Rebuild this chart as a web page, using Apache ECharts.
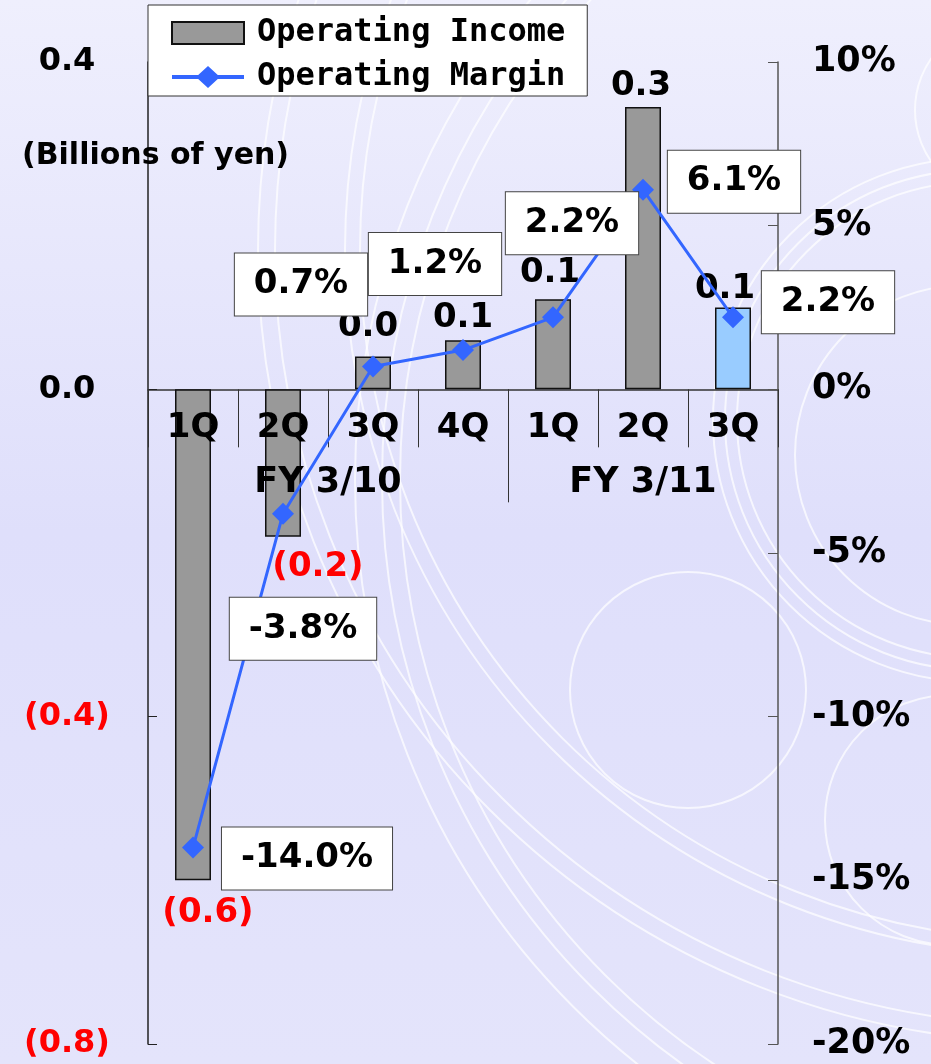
<!DOCTYPE html>
<html>
<head>
<meta charset="utf-8">
<title>Operating Income / Operating Margin</title>
<script src="https://cdn.jsdelivr.net/npm/echarts@6.0.0/dist/echarts.min.js"></script>
<style>
  html, body { margin: 0; padding: 0; }
  #chart { width: 931px; height: 1064px; }
</style>
</head>
<body>
<div id="chart"></div>
<script>
/* ---------- data ---------- */
const quarters = ['1Q', '2Q', '3Q', '4Q', '1Q', '2Q', '3Q'];
const fiscalYears = ['FY 3/10', 'FY 3/11'];
const fyCenters = [2, 5.5];          // middle of each fiscal-year group, in category units
const fyBreaks = [4];                // boundary between FY 3/10 and FY 3/11
const income = [-0.60, -0.18, 0.04, 0.06, 0.11, 0.345, 0.10];   // billions of yen
const margin = [-14.0, -3.8, 0.7, 1.2, 2.2, 6.1, 2.2];         // %
const incomeTicks = [-0.8, -0.4, 0.0, 0.4];
const marginTicks = [-20, -15, -10, -5, 0, 5, 10];

/* ---------- style ---------- */
const FONT = 'DejaVu Sans';
const RED = '#ff0000';
const BAR_GRAY = '#999999';
const BAR_LATEST = '#99ccff';
const LINE_BLUE = '#3366ff';

// label offsets (px) – income labels measured from bar end, margin boxes from the marker
const incomeLabelOffset = [[15, 16], [35, 14], [-5, -12], [0, -5], [-3, -9], [-2, -4], [-8, -1]];
const marginLabelOffset = [[114, 11], [20, 115], [-72, -82], [-28, -86], [19, -94], [91, -8], [95, -15]];

// legend icon for the margin line: thick stroke with a diamond in the middle (72 x 22 box)
const LINE_ICON = 'path://M0,9H26.2L36,0L45.8,9H72V13H45.8L36,22L26.2,13H0Z';

function fmtIncome(v) {
  const s = Math.abs(v).toFixed(1);
  return v < 0 && s !== '0.0' ? '(' + s + ')' : s;
}

const chart = echarts.init(document.getElementById('chart'), null, { renderer: 'canvas' });

// decorative rings of the slide background
const rings = [
  [688, 690, 118], [965, 455, 170], [950, 820, 125], [1005, 110, 90],
  [975, 420, 238], [975, 420, 250], [975, 420, 262],
  [1100, 480, 700], [1100, 480, 718], [1100, 480, 745],
  [1050, 250, 690], [1050, 250, 705], [1050, 250, 775], [1050, 250, 792],
];

const labelFont = { fontFamily: FONT, fontWeight: 'bold', color: '#000' };

const option = {
  backgroundColor: new echarts.graphic.LinearGradient(0, 0, 0, 1, [
    { offset: 0, color: '#efeffd' },
    { offset: 0.5, color: '#dfdffb' },
    { offset: 1, color: '#e4e4fb' },
  ]),
  graphic: rings.map(([cx, cy, r]) => ({
    type: 'circle', silent: true, z: -10,
    shape: { cx, cy, r },
    style: { fill: 'none', stroke: 'rgba(255,255,255,0.7)', lineWidth: 2 },
  })),
  title: {
    text: '(Billions of yen)', left: 17, top: 136,
    textStyle: { ...labelFont, fontSize: 30 },
  },
  legend: {
    orient: 'vertical', left: 148, top: 5,
    padding: [12, 22, 3, 23],
    backgroundColor: '#fff', borderColor: '#333', borderWidth: 1,
    itemWidth: 72, itemHeight: 22, itemGap: 12,
    textStyle: {
      fontFamily: 'DejaVu Sans Mono', fontWeight: 'bold', fontSize: 32, lineHeight: 32,
      color: '#000', padding: [0, 0, 0, 8],
    },
    data: [{ name: 'Operating Income', icon: 'rect' }, { name: 'Operating Margin', icon: LINE_ICON }],
  },
  // grid 0 holds the plot; grid 1 ends on the zero line and only carries the category labels
  grid: [
    { left: 148, right: 153, top: 62, bottom: 20, outerBoundsMode: 'none' },
    { left: 148, right: 153, top: 62, bottom: 675, outerBoundsMode: 'none' },
  ],
  xAxis: [{
    type: 'category', data: quarters, gridIndex: 0,
    axisLine: { onZero: true, lineStyle: { color: '#333', width: 1.5 } },
    axisTick: { show: true, length: 58, lineStyle: { color: '#333' } },
    axisLabel: { show: false },
  }, {
    type: 'value', min: 0, max: 7, gridIndex: 0, position: 'bottom',
    axisLine: { show: false, onZero: true, onZeroAxisIndex: 0 },
    splitLine: { show: false },
    axisTick: { show: true, customValues: fyBreaks, length: 113, lineStyle: { color: '#333' } },
    axisLabel: { show: false },
  }, {
    type: 'category', data: quarters, gridIndex: 1, position: 'bottom', z: 3,
    axisLine: { show: false }, axisTick: { show: false },
    axisLabel: { ...labelFont, margin: 22, fontSize: 34 },
  }, {
    type: 'value', min: 0, max: 7, gridIndex: 1, position: 'bottom', z: 3,
    axisLine: { show: false }, axisTick: { show: false }, splitLine: { show: false },
    axisLabel: {
      ...labelFont, customValues: fyCenters, margin: 76, fontSize: 35,
      formatter: v => fiscalYears[fyCenters.indexOf(v)] || '',
    },
  }],
  yAxis: [{
    type: 'value', gridIndex: 0,
    min: incomeTicks[0], max: incomeTicks[incomeTicks.length - 1], interval: 0.4,
    axisLine: { show: true, lineStyle: { color: '#222', width: 1.5 } },
    axisTick: { show: true, inside: true, length: 9, lineStyle: { color: '#222' } },
    splitLine: { show: false },
    axisLabel: {
      ...labelFont, margin: 81, align: 'center', fontSize: 32,
      formatter: v => fmtIncome(v),
      color: v => (v < 0 ? RED : '#000'),
    },
  }, {
    type: 'value', gridIndex: 0,
    min: marginTicks[0], max: marginTicks[marginTicks.length - 1], interval: 5,
    position: 'right',
    axisLine: { show: true, lineStyle: { color: '#555', width: 1.5 } },
    axisTick: { show: true, inside: true, length: 10, lineStyle: { color: '#555' } },
    splitLine: { show: false },
    axisLabel: { ...labelFont, margin: 34, align: 'left', fontSize: 35, formatter: v => v + '%' },
  }, {
    type: 'value', gridIndex: 1, show: false,
  }],
  series: [{
    name: 'Operating Income', type: 'bar', barWidth: 36,
    xAxisIndex: 0, yAxisIndex: 0, z: 2,
    itemStyle: { color: BAR_GRAY, borderColor: '#111', borderWidth: 1.5 },
    data: income.map((v, i) => ({
      value: v,
      itemStyle: { color: i === income.length - 1 ? BAR_LATEST : BAR_GRAY },
      label: {
        show: true,
        position: v < 0 ? 'bottom' : 'top', distance: 0,
        offset: incomeLabelOffset[i],
        formatter: fmtIncome(v),
        ...labelFont, fontSize: 34, lineHeight: 34,
        color: v < 0 ? RED : '#000',
      },
    })),
  }, {
    name: 'Operating Margin', type: 'line',
    xAxisIndex: 0, yAxisIndex: 1,
    symbol: 'diamond', symbolSize: 22,
    lineStyle: { color: LINE_BLUE, width: 3 },
    itemStyle: { color: LINE_BLUE },
    z: 4,
    data: margin.map((v, i) => ({
      value: v,
      label: {
        show: true, position: 'inside',
        offset: marginLabelOffset[i],
        formatter: v.toFixed(1) + '%',
        ...labelFont, fontSize: 34, lineHeight: 34,
        backgroundColor: '#fff', borderColor: '#444', borderWidth: 1,
        padding: [14, 19],
      },
    })),
  }],
};

chart.setOption(option);
</script>
</body>
</html>
